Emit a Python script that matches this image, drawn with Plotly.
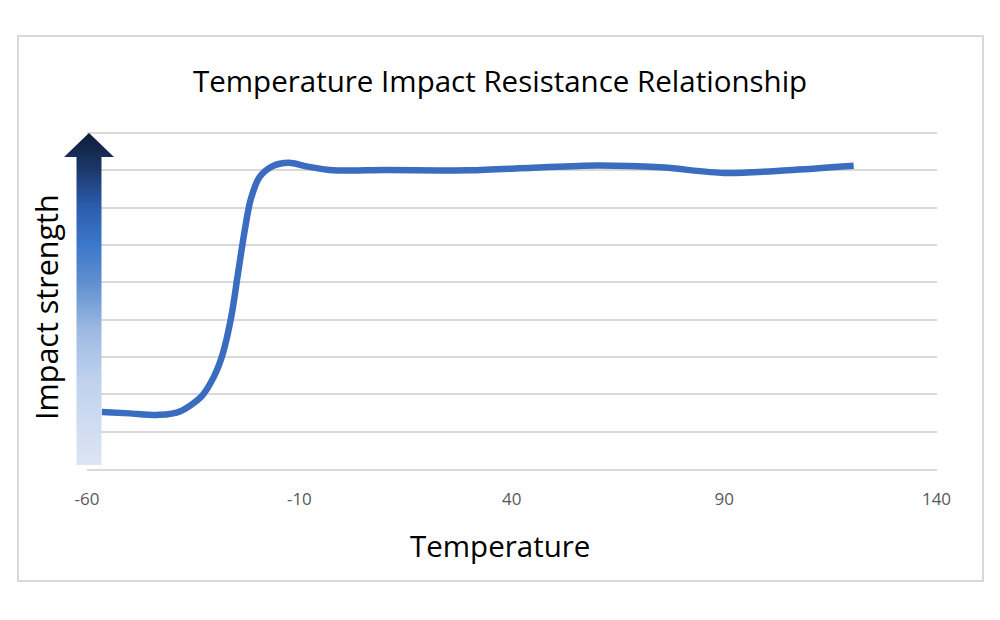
import plotly.graph_objects as go

# ---- data ----
temperature = [-56.5, -50, -43, -38, -33, -30, -28, -26, -24.5, -23, -21.5, -19.5, -16.5, -12.5,
               -8, -2, 10, 30, 45, 60, 75, 90, 105, 120.5]
impact_strength = [1.53, 1.49, 1.45, 1.55, 1.95, 2.5, 3.1, 4.1, 5.2, 6.3, 7.2, 7.8, 8.1, 8.2,
                   8.1, 8.0, 8.01, 8.0, 8.07, 8.13, 8.08, 7.93, 8.0, 8.12]
x_ticks = [-60, -10, 40, 90, 140]
y_gridlines = list(range(0, 10))

title_text = "Temperature Impact Resistance Relationship"
x_title = "Temperature"
y_title = "Impact strength"

# ---- layout geometry (pixels) ----
W, H = 1000, 620
BOX_L, BOX_R, BOX_T, BOX_B = 18, 983, 36, 581
PLOT_L, PLOT_R, PLOT_B = 87, 936.5, 469
Y_MAX = 9.05
PX_PER_UNIT = (469 - 133) / 9.0
PLOT_T = PLOT_B - Y_MAX * PX_PER_UNIT

pw = BOX_R - BOX_L
ph = BOX_B - BOX_T


def px_x(x):
    return (x - BOX_L) / pw


def px_y(y):
    return (BOX_B - y) / ph


fig = go.Figure()

# gradient arrow (decoration) on separate pixel axes
ax_c = 89
arrow_x = [ax_c - 12.5, ax_c + 12.5, ax_c + 12.5, ax_c + 25, ax_c, ax_c - 25, ax_c - 12.5, ax_c - 12.5]
arrow_y = [465, 465, 157, 157, 133, 157, 157, 465]
fig.add_trace(go.Scatter(
    x=arrow_x, y=arrow_y, xaxis="x2", yaxis="y2",
    mode="lines", fill="toself", line=dict(width=0, color="rgba(0,0,0,0)"),
    fillgradient=dict(type="vertical", start=133, stop=465,
                      colorscale=[[0.0, "#0e1c38"], [0.1, "#1a3566"], [0.22, "#2b5cac"],
                                  [0.33, "#3b76c8"], [0.45, "#5f8fd0"], [0.6, "#9fbbe3"],
                                  [0.75, "#c0d2ee"], [1.0, "#dde5f4"]]),
    hoverinfo="skip", showlegend=False,
))

# data line
fig.add_trace(go.Scatter(
    x=temperature, y=impact_strength, mode="lines",
    line=dict(color="#3a6cbf", width=6.5, shape="spline", smoothing=0.8),
    showlegend=False, hoverinfo="skip",
))

fig.update_layout(
    width=W, height=H, autosize=False,
    margin=dict(l=BOX_L, r=W - BOX_R, t=BOX_T, b=H - BOX_B, pad=0, autoexpand=False),
    paper_bgcolor="white", plot_bgcolor="rgba(0,0,0,0)",
    font=dict(family="Open Sans, Noto Sans, sans-serif", color="black"),
    xaxis=dict(
        domain=[px_x(PLOT_L), px_x(PLOT_R)],
        range=[x_ticks[0], x_ticks[-1]],
        tickvals=x_ticks, ticktext=[str(t) for t in x_ticks],
        showgrid=False, zeroline=False, automargin=False,
        showline=True, linecolor="#d9d9d9", linewidth=1.5,
        ticks="", ticklen=0, ticklabelstandoff=14,
        tickfont=dict(size=17, color="#595959"),
    ),
    yaxis=dict(
        domain=[px_y(PLOT_B), px_y(PLOT_T)],
        range=[0, Y_MAX], automargin=False,
        tickvals=y_gridlines, showticklabels=False,
        showgrid=True, gridcolor="#d9d9d9", gridwidth=1.5,
        zeroline=False, showline=False, ticks="",
    ),
    xaxis2=dict(domain=[0, 1], range=[BOX_L, BOX_R], anchor="y2", visible=False,
                fixedrange=True, automargin=False),
    yaxis2=dict(domain=[0, 1], range=[BOX_B, BOX_T], anchor="x2", visible=False,
                fixedrange=True, automargin=False),
    shapes=[dict(type="rect", xref="paper", yref="paper", x0=0, x1=1, y0=0, y1=1,
                 line=dict(color="#d9d9d9", width=2), fillcolor="rgba(0,0,0,0)", layer="below")],
    annotations=[
        dict(text=title_text, xref="paper", yref="paper", x=px_x(500), y=px_y(80),
             xanchor="center", yanchor="middle", showarrow=False,
             font=dict(size=29.5, color="black")),
        dict(text=x_title, xref="paper", yref="paper", x=px_x(500), y=px_y(545),
             xanchor="center", yanchor="middle", showarrow=False,
             font=dict(size=29.5, color="black")),
        dict(text=y_title, xref="paper", yref="paper", x=px_x(46), y=px_y(307),
             xanchor="center", yanchor="middle", showarrow=False, textangle=-90,
             font=dict(size=30.5, color="black")),
    ],
)

fig.write_html(
    "out.html",
    config={"displayModeBar": False},
    post_script="document.body.style.margin='0px';document.documentElement.style.overflow='hidden';",
)
